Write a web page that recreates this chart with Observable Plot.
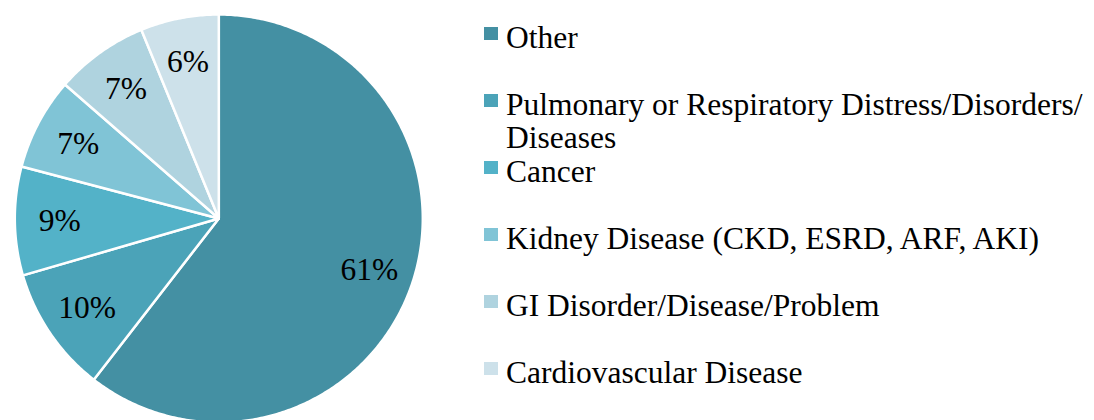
<!DOCTYPE html>
<html>
<head>
<meta charset="utf-8">
<script src="https://cdn.jsdelivr.net/npm/d3@7"></script>
<script src="https://cdn.jsdelivr.net/npm/@observablehq/plot@0.6"></script>
<style>
  html, body { margin: 0; padding: 0; background: #fff; overflow: hidden; }
  #wrap { position: relative; width: 1094px; height: 420px; font-family: "Liberation Serif", "Times New Roman", serif; }
  #chart { position: absolute; left: 0; top: 0; }
  #legend { position: absolute; left: 484px; top: 17.5px; width: 610px; }
  .item { height: 67px; display: flex; align-items: flex-start; }
  .sw { width: 14px; height: 13px; margin-top: 9.5px; margin-right: 8px; flex: none; }
  .lab { font-size: 31.5px; line-height: 33px; padding-top: 3px; color: #000; width: 590px; }
</style>
</head>
<body>
<div id="wrap">
  <div id="chart"></div>
  <div id="legend"></div>
</div>
<script>
const categories = [
  "Other",
  "Pulmonary or Respiratory Distress/Disorders/Diseases",
  "Cancer",
  "Kidney Disease (CKD, ESRD, ARF, AKI)",
  "GI Disorder/Disease/Problem",
  "Cardiovascular Disease"
];
const shares = [60.5, 10.0, 8.6, 7.3, 7.4, 6.2];
const colors = ["#4490a3", "#4ba3b8", "#53b2c8", "#80c4d6", "#afd3df", "#cde1ea"];

const total = d3.sum(shares);
const arcs = d3.pie().sort(null).value(d => d)(shares);

// polygon outline of each slice, in unit-circle coordinates
const points = [];
arcs.forEach((a, i) => {
  const name = categories[i];
  points.push({name, x: 0, y: 0});
  const n = Math.max(4, Math.ceil((a.endAngle - a.startAngle) / 0.01));
  for (let k = 0; k <= n; k++) {
    const t = a.startAngle + (a.endAngle - a.startAngle) * k / n;
    points.push({name, x: Math.sin(t), y: Math.cos(t)});
  }
});

const labelR = 0.78;
const labels = arcs.map((a, i) => {
  const m = (a.startAngle + a.endAngle) / 2;
  return {
    name: categories[i],
    x: labelR * Math.sin(m),
    y: labelR * Math.cos(m),
    text: Math.round(shares[i] / total * 100) + "%"
  };
});

const chart = Plot.plot({
  width: 1094,
  height: 420,
  margin: 0,
  x: {domain: [-1, 1], range: [14.3, 422.3], axis: null},
  y: {domain: [-1, 1], range: [422, 14], axis: null},
  color: {domain: categories, range: colors},
  style: {background: "transparent"},
  marks: [
    Plot.line(points, {
      x: "x", y: "y", z: "name", fill: "name",
      stroke: "white", strokeWidth: 2.5, strokeLinejoin: "round",
      curve: "linear-closed"
    }),
    Plot.text(labels, {
      x: "x", y: "y", text: "text",
      fontSize: 31.5, fontFamily: "Liberation Serif", fill: "#000"
    })
  ]
});
document.getElementById("chart").appendChild(chart);

// legend
const legend = d3.select("#legend");
categories.forEach((c, i) => {
  const item = legend.append("div").attr("class", "item");
  item.append("div").attr("class", "sw").style("background", colors[i]);
  const lab = item.append("div").attr("class", "lab");
  const parts = c.split("/");
  parts.forEach((p, j) => {
    lab.append(() => document.createTextNode(p + (j < parts.length - 1 ? "/" : "")));
    if (j < parts.length - 1) lab.append("wbr");
  });
});
</script>
</body>
</html>
